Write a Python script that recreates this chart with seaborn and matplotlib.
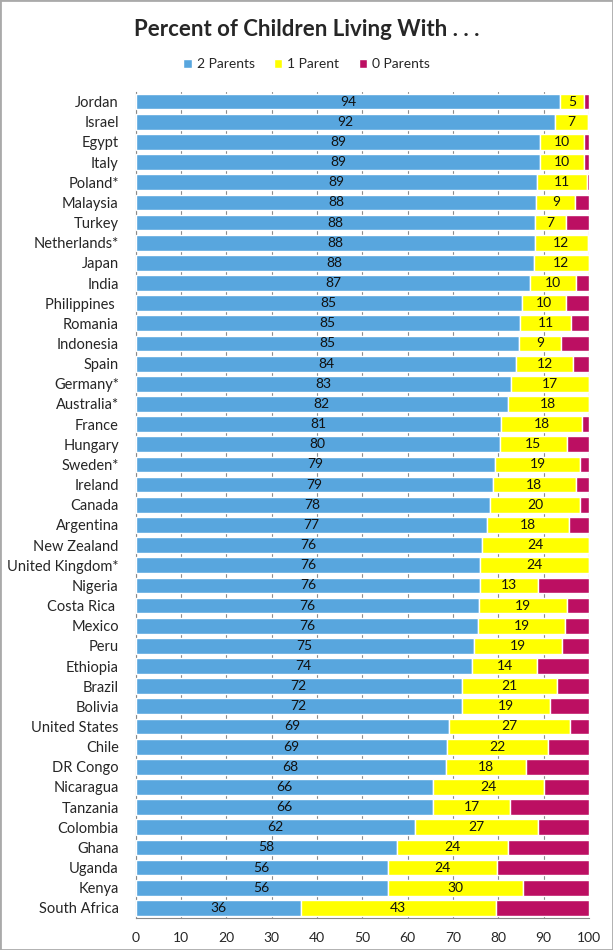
import numpy as np
import matplotlib
matplotlib.use("Agg")
import matplotlib.pyplot as plt
import seaborn as sns
from matplotlib.patches import Rectangle

# Data (percent of children)
countries = [
    "Jordan", "Israel", "Egypt", "Italy", "Poland*", "Malaysia", "Turkey",
    "Netherlands*", "Japan", "India", "Philippines ", "Romania", "Indonesia",
    "Spain", "Germany*", "Australia*", "France", "Hungary", "Sweden*",
    "Ireland", "Canada", "Argentina", "New Zealand", "United Kingdom*",
    "Nigeria", "Costa Rica ", "Mexico", "Peru", "Ethiopia", "Brazil",
    "Bolivia", "United States", "Chile", "DR Congo", "Nicaragua", "Tanzania",
    "Colombia", "Ghana", "Uganda", "Kenya", "South Africa",
]
two_parents = [
    93.7, 92.4, 89.3, 89.3, 88.6, 88.4, 88.1, 88.1, 87.8, 87.1, 85.3, 84.8,
    84.6, 84.0, 82.9, 82.1, 80.7, 80.3, 79.2, 78.8, 78.1, 77.4, 76.3, 76.0,
    76.0, 75.8, 75.6, 74.6, 74.2, 72.0, 72.0, 69.2, 68.7, 68.4, 65.6, 65.6,
    61.6, 57.7, 55.7, 55.6, 36.4,
]
one_parent = [
    5.2, 7.4, 9.6, 9.6, 10.9, 8.6, 6.8, 11.6, 12.2, 10.1, 9.6, 11.3,
    9.3, 12.4, 17.1, 17.9, 17.8, 14.8, 18.9, 18.3, 20.0, 18.3, 23.7, 24.0,
    12.7, 19.4, 19.2, 19.4, 14.4, 21.0, 19.4, 26.6, 22.3, 17.7, 24.4, 17.0,
    27.2, 24.4, 24.1, 29.9, 43.1,
]
zero_parents = [
    1.1, 0.2, 1.1, 1.1, 0.5, 3.0, 5.1, 0.3, 0.0, 2.8, 5.1, 3.9,
    6.1, 3.6, 0.0, 0.0, 1.5, 4.9, 1.9, 2.9, 1.9, 4.3, 0.0, 0.0,
    11.3, 4.8, 5.2, 6.0, 11.4, 7.0, 8.6, 4.2, 9.0, 13.9, 10.0, 17.4,
    11.2, 17.9, 20.2, 14.5, 20.5,
]
series_names = ["2 Parents", "1 Parent", "0 Parents"]
colors = ["#58A6DE", "#FFFF00", "#BC0F62"]

sns.set_style("white")
plt.rcParams["font.family"] = ["Lato", "DejaVu Sans"]

fig = plt.figure(figsize=(6.13, 9.5), dpi=100)
ax = fig.add_axes([135.5 / 613, 1 - 918 / 950, (589 - 135.5) / 613, (918 - 91.5) / 950])

y = np.arange(len(countries))
two = np.array(two_parents)
one = np.array(one_parent)
zero = np.array(zero_parents)

bars2 = ax.barh(y, two, height=0.78, color=colors[0], label=series_names[0], zorder=3)
bars1 = ax.barh(y, one, left=two, height=0.78, color=colors[1], label=series_names[1], zorder=3)
bars0 = ax.barh(y, zero, left=two + one, height=0.78, color=colors[2], label=series_names[2], zorder=3)

ax.bar_label(bars2, fmt="%.0f", label_type="center", fontsize=10, color="#111111")
ax.bar_label(bars1, fmt="%.0f", label_type="center", fontsize=10, color="#111111")

ax.set_xlim(0, 100)
ax.set_ylim(len(countries) - 0.5, -0.5)
ax.set_xticks(np.arange(0, 101, 10))
ax.set_yticks(y)
ax.set_yticklabels(countries, fontsize=10.5)
ax.set_yticks(np.arange(-0.5, len(countries), 1), minor=True)
ax.tick_params(axis="y", which="major", length=0, pad=12)
ax.tick_params(axis="y", which="minor", length=4, color="#888888", direction="out")
ax.tick_params(axis="x", which="major", length=4, color="#888888", direction="out", labelsize=10, pad=6)

ax.grid(axis="x", color="#8C8C8C", linewidth=0.8, zorder=0)
ax.grid(axis="y", visible=False)
for side in ["top", "right"]:
    ax.spines[side].set_visible(False)
for side in ["left", "bottom"]:
    ax.spines[side].set_color("#888888")
    ax.spines[side].set_linewidth(0.8)

fig.suptitle("Percent of Children Living With . . .", x=0.5, y=1 - 30 / 950,
             va="center", fontsize=16, fontweight="bold")
fig.legend(handles=[bars2, bars1, bars0], labels=series_names, loc="center",
           bbox_to_anchor=(0.5, 1 - 64 / 950), ncol=3, frameon=False,
           fontsize=10, handlelength=0.6, handleheight=0.6, handletextpad=0.35,
           columnspacing=1.4)

fig.patches.append(Rectangle((0, 0), 1, 1, transform=fig.transFigure, fill=False,
                             edgecolor="#AAAAAA", linewidth=2))

fig.savefig("out.png", dpi=100)
